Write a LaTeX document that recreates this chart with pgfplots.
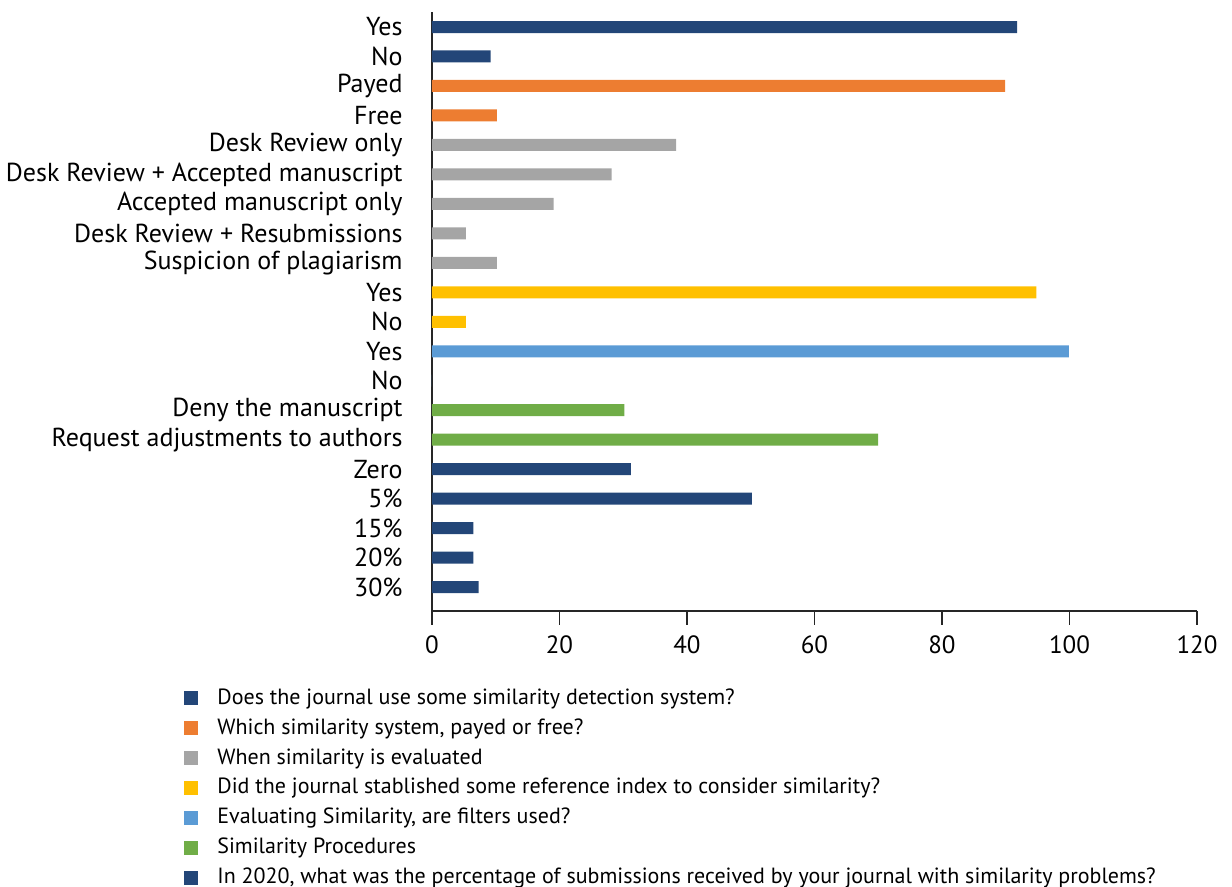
\documentclass[border=0pt]{standalone}
\usepackage{pgfplots}
\pgfplotsset{compat=1.18}
\usepackage{fontspec}
\setmainfont{PT Sans}
\definecolor{cA}{HTML}{234678}
\definecolor{cB}{HTML}{ED7D31}
\definecolor{cC}{HTML}{A5A5A5}
\definecolor{cD}{HTML}{FFC000}
\definecolor{cE}{HTML}{5B9BD5}
\definecolor{cF}{HTML}{70AD47}
\begin{document}
\begin{tikzpicture}
\begin{axis}[
  scale only axis, width=382.5pt, height=299.5pt,
  xmin=0, xmax=120, ymin=-0.81, ymax=19.51,
  xbar, bar width=6pt, bar shift=0pt,
  axis x line=bottom, axis y line=left,
  axis line style={-, black!85, line width=0.8pt},
  xtick={0,20,...,120},
  tick align=outside, major tick length=7pt,
  xtick style={black!85, line width=0.8pt},
  ytick style={draw=none},
  ytick={0,...,19},
  yticklabels={30\%,20\%,15\%,5\%,Zero,Request adjustments to authors,Deny the manuscript,No,Yes,No,Yes,Suspicion of plagiarism,Desk Review + Resubmissions,Accepted manuscript only,Desk Review + Accepted manuscript,Desk Review only,Free,Payed,No,Yes},
  yticklabel style={font=\fontsize{13}{15}\selectfont, inner sep=0pt, anchor=east, xshift=-7.5pt},
  xticklabel style={font=\fontsize{12.5}{15}\selectfont, inner sep=0pt, anchor=north, yshift=-5pt},
  /pgf/number format/assume math mode=true,
  legend image code/.code={\path[draw=none,fill=none] (0pt,0pt) -- (16.5pt,0pt); \fill[#1,draw=none] (0pt,-3.5pt) rectangle (7pt,3.5pt);},
  legend cell align=left,
  legend style={at={(rel axis cs:-0.332,-0.1217)}, anchor=north west, draw=none, fill=none,
    font=\fontsize{11}{13}\selectfont, row sep=4.95pt,
    nodes={inner sep=0pt, text height=8pt, text depth=2pt}},
  clip=false,
]
\addplot[fill=cA, draw=none] coordinates {(91.8,19) (9.2,18)};
\addlegendentry{Does the journal use some similarity detection system?}
\addplot[fill=cB, draw=none] coordinates {(89.9,17) (10.2,16)};
\addlegendentry{Which similarity system, payed or free?}
\addplot[fill=cC, draw=none] coordinates {(38.3,15) (28.2,14) (19.1,13) (5.3,12) (10.2,11)};
\addlegendentry{When similarity is evaluated}
\addplot[fill=cD, draw=none] coordinates {(94.8,10) (5.3,9)};
\addlegendentry{Did the journal stablished some reference index to consider similarity?}
\addplot[fill=cE, draw=none] coordinates {(99.9,8) (0,7)};
\addlegendentry{Evaluating Similarity, are filters used?}
\addplot[fill=cF, draw=none] coordinates {(30.2,6) (70.0,5)};
\addlegendentry{Similarity Procedures}
\addplot[fill=cA, draw=none] coordinates {(31.2,4) (50.2,3) (6.5,2) (6.5,1) (7.3,0)};
\addlegendentry{In 2020, what was the percentage of submissions received by your journal with similarity problems?}
\coordinate (BBa) at (rel axis cs:-0.5647,-0.4608);
\coordinate (BBb) at (rel axis cs:1.0458,1.0200);
\end{axis}
\pgfresetboundingbox
\path[use as bounding box] (BBa) rectangle (BBb);
\end{tikzpicture}
\end{document}
